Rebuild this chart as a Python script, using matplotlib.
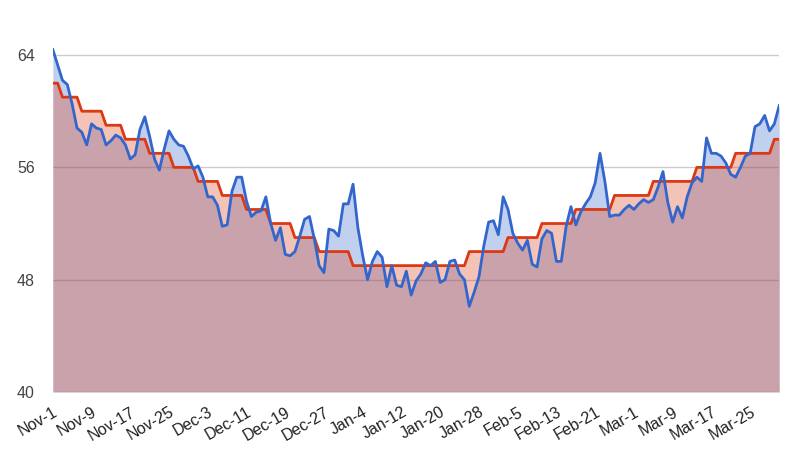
import pandas as pd
import matplotlib
matplotlib.use('Agg')
import matplotlib.pyplot as plt

# daily temperature vs normal, Nov-1 .. Mar-31
dates = pd.date_range('2013-11-01', '2014-03-31', freq='D')

actual = [64.4, 63.3, 62.2, 61.9, 60.5, 58.8, 58.5, 57.6, 59.1, 58.8,
          58.7, 57.6, 57.9, 58.3, 58.1, 57.6, 56.6, 56.9, 58.7, 59.6,
          58.2, 56.6, 55.8, 57.3, 58.6, 58.0, 57.6, 57.5, 56.8, 55.9,
          56.1, 55.3, 53.9, 53.9, 53.3, 51.8, 51.9, 54.3, 55.3, 55.3,
          53.6, 52.5, 52.8, 52.9, 53.9, 52.0, 50.8, 51.7, 49.8, 49.7,
          50.0, 51.1, 52.3, 52.5, 50.9, 49.0, 48.5, 51.6, 51.5, 51.1,
          53.4, 53.4, 54.8, 51.7, 49.7, 48.0, 49.3, 50.0, 49.6, 47.5,
          49.0, 47.6, 47.5, 48.6, 46.9, 47.9, 48.4, 49.2, 49.0, 49.3,
          47.8, 48.0, 49.3, 49.4, 48.4, 48.0, 46.1, 47.1, 48.2, 50.4,
          52.1, 52.2, 51.2, 53.9, 53.0, 51.3, 50.6, 50.1, 50.8, 49.1,
          48.9, 50.9, 51.5, 51.3, 49.3, 49.3, 51.8, 53.2, 51.9, 52.8,
          53.4, 53.9, 54.9, 57.0, 55.0, 52.5, 52.6, 52.6, 53.0, 53.3,
          53.0, 53.4, 53.7, 53.5, 53.7, 54.6, 55.7, 53.5, 52.1, 53.2,
          52.4, 53.9, 54.9, 55.3, 55.0, 58.1, 57.0, 57.0, 56.8, 56.3,
          55.5, 55.3, 56.0, 56.8, 57.0, 58.9, 59.1, 59.7, 58.6, 59.1,
          60.4]

# normal temperature: (value, number of days)
normal_steps = [(62, 2), (61, 4), (60, 5), (59, 4), (58, 5), (57, 5),
                (56, 5), (55, 5), (54, 5), (53, 5), (52, 5), (51, 5),
                (50, 7), (49, 24), (50, 8), (51, 7), (52, 7), (53, 8),
                (54, 8), (55, 9), (56, 8), (57, 8), (58, 2)]
normal = []
for v, n in normal_steps:
    normal += [v] * n

y_ticks = [40, 48, 56, 64]


def main():
    x = list(range(len(dates)))
    plt.rcParams['font.family'] = ['Liberation Sans', 'DejaVu Sans']

    fig = plt.figure(figsize=(8, 4.5), dpi=100)
    ax = fig.add_axes([0.066, 0.129, 0.908, 0.811])

    for t in y_ticks:
        ax.axhline(t, color='#cccccc', lw=1, zorder=0)

    ax.fill_between(x, actual, 40, color='#3366cc', alpha=0.3, lw=0, zorder=1)
    ax.fill_between(x, normal, 40, color='#dc3912', alpha=0.3, lw=0, zorder=1)
    ax.plot(x, normal, color='#dc3912', lw=2, zorder=3)
    ax.plot(x, actual, color='#3366cc', lw=2, zorder=4)

    ax.set_xlim(0, len(x) - 1)
    ax.set_ylim(40, 66)
    ax.set_yticks(y_ticks)
    ax.set_yticklabels([str(t) for t in y_ticks], fontsize=11.5, color='#444444')

    xt = x[::8]
    ax.set_xticks(xt)
    ax.set_xticklabels([dates[i].strftime('%b-') + str(dates[i].day) for i in xt],
                       rotation=30, ha='right', va='top', rotation_mode='anchor',
                       fontsize=11.5, color='#222222')
    ax.tick_params(length=0)
    ax.tick_params(axis='x', pad=9)
    ax.tick_params(axis='y', pad=13)
    for s in ax.spines.values():
        s.set_visible(False)

    fig.savefig('out.png')


if __name__ == '__main__':
    main()
